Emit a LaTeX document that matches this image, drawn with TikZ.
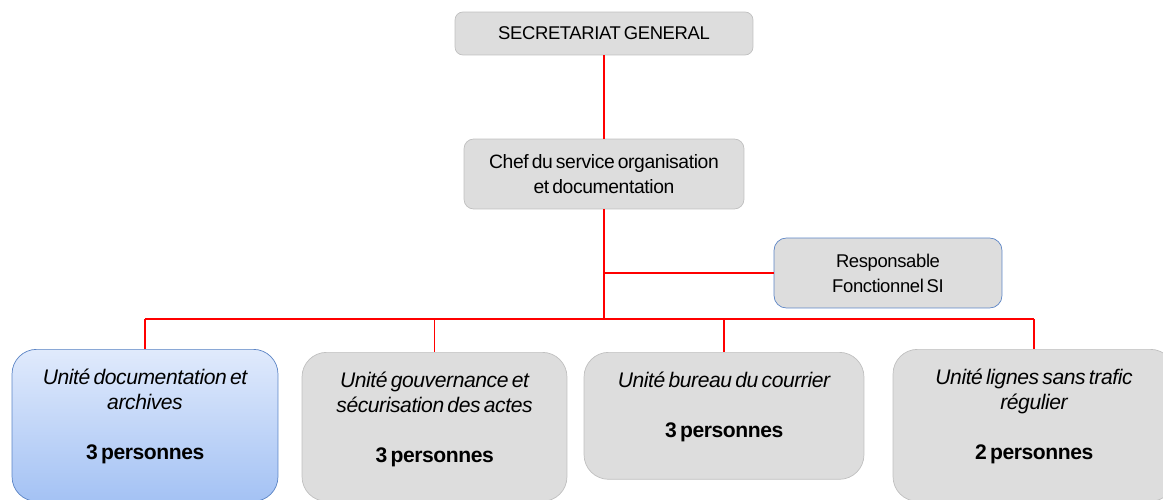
\documentclass[tikz,border=0pt]{standalone}
\usepackage{fontspec}
\setmainfont{Liberation Sans}[LetterSpace=-2,WordSpace=0.6]
\usetikzlibrary{calc}

\definecolor{fillgray}{RGB}{221,221,221}
\definecolor{edgegray}{RGB}{192,192,192}
\definecolor{edgeblue}{RGB}{92,133,198}
\definecolor{bluetop}{RGB}{224,234,252}
\definecolor{bluebot}{RGB}{164,194,244}

\newcommand{\unitbox}[3]{\parbox[t][#1][t]{#2}{\centering\rule{0pt}{0.7cm}#3}}

\begin{document}
\begin{tikzpicture}[x=0.02cm,y=-0.02cm,
    box/.style={draw=edgegray, fill=fillgray, align=center, inner sep=0pt,
      font=\fontsize{10.5}{14.2}\selectfont},
    unit/.style={box, anchor=north, rounded corners=14pt,
      font=\fontsize{12}{14.2}\selectfont},
    link/.style={red, line width=1.1pt}]
        \useasboundingbox (0,0) rectangle (1163,500);
        \clip (0,0) rectangle (1163,500);

        \node[box, rounded corners=4.5pt, minimum width=5.96cm, minimum height=0.86cm] (sg) at (604,33.5) {SECRETARIAT GENERAL};
        \node[box, rounded corners=5.5pt, minimum width=5.6cm, minimum height=1.4cm,
            font=\fontsize{11}{14.2}\selectfont] (chef) at (604,174) {Chef du service organisation\\et documentation};
        \node[box, draw=edgeblue, rounded corners=7pt, minimum width=4.56cm, minimum height=1.4cm] (resp) at (888,273) {Responsable\\Fonctionnel SI};

        \node[unit, draw=edgeblue, top color=bluetop, bottom color=bluebot] (u1) at (145,349)
            {\unitbox{3.04cm}{5.32cm}{{\itshape Unité documentation et\\archives}\\[\baselineskip]\textbf{3 personnes}}};
        \node[unit] (u2) at (434.5,352)
            {\unitbox{2.98cm}{5.3cm}{{\itshape Unité gouvernance et\\sécurisation des actes}\\[\baselineskip]\textbf{3 personnes}}};
        \node[unit] (u3) at (724,352)
            {\unitbox{2.54cm}{5.6cm}{{\itshape Unité bureau du courrier}\\[\baselineskip]\textbf{3 personnes}}};
        \node[unit] (u4) at (1034,349)
            {\unitbox{3.04cm}{5.64cm}{{\itshape Unité lignes sans trafic\\régulier}\\[\baselineskip]\textbf{2 personnes}}};

        \coordinate (bus) at (604,319);

        \draw[link] (sg) -- (chef);
        \draw[link] (chef) -- (bus);
        \draw[link] (chef.south |- resp.west) -- (resp.west);
        \draw[link] (bus -| u1) -- (bus -| u4);
        \foreach \u in {u1,u2,u3,u4}
            \draw[link] (bus -| \u) -- (\u);
    \end{tikzpicture}
\end{document}
